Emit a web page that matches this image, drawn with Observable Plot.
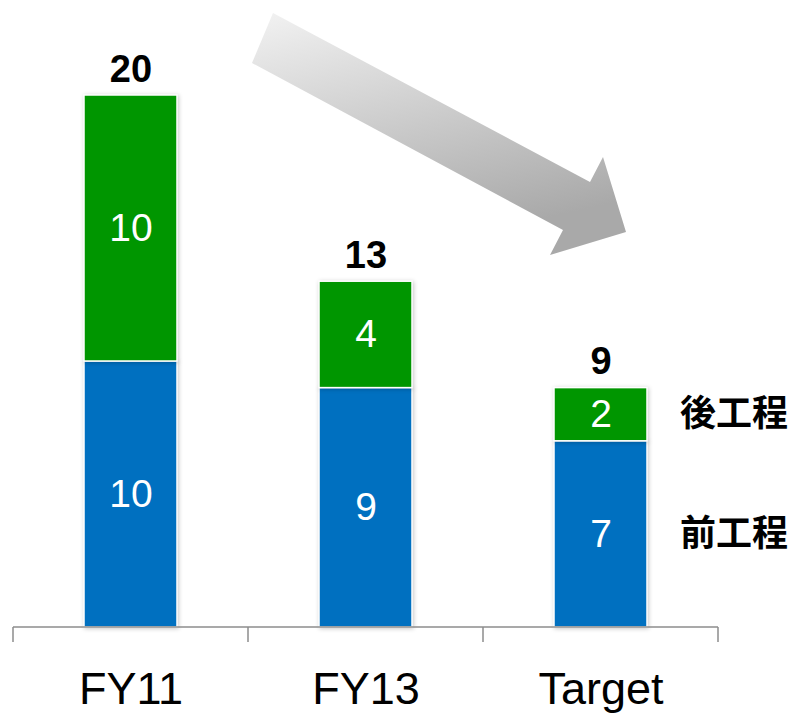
<!DOCTYPE html>
<html>
<head>
<meta charset="utf-8">
<script src="https://cdn.jsdelivr.net/npm/d3@7"></script>
<script src="https://cdn.jsdelivr.net/npm/@observablehq/plot@0.6"></script>
<style>
  html, body { margin: 0; padding: 0; background: #fff; }
  #wrap { position: relative; width: 795px; height: 716px; }
  #wrap svg.arrow { position: absolute; left: 0; top: 0; pointer-events: none; }
  g[aria-label="bar"] rect { filter: drop-shadow(1px 1px 2px rgba(0,0,0,0.22)); }
</style>
</head>
<body>
<div id="wrap"></div>
<script>
// ---- data ----
const categories = ["FY11", "FY13", "Target"];
const seriesNames = ["前工程", "後工程"];
const frontEnd = [10, 9, 7];   // 前工程 (blue, bottom)
const backEnd = [10, 4, 2];    // 後工程 (green, top)
const totals = [20, 13, 9];
const seriesColors = ["#0070C0", "#009600"];

const rows = categories.flatMap((c, i) => [
  {cat: c, series: seriesNames[0], value: frontEnd[i]},
  {cat: c, series: seriesNames[1], value: backEnd[i]}
]);
const totalRows = categories.map((c, i) => ({cat: c, total: totals[i]}));
const lastCat = categories[categories.length - 1];

const latin = "'Liberation Sans', Arial, sans-serif";
const cjk = "'Noto Sans CJK JP', 'Noto Sans CJK SC', sans-serif";

function baseAxis(index, scales, values, dims) {
  const x = scales.x, y = scales.y;
  const bw = x.bandwidth ? x.bandwidth() : 0;
  const step = x.step ? x.step() : (dims.width - dims.marginLeft - dims.marginRight) / categories.length;
  const y0 = y(0);
  const g = d3.create("svg:g")
    .attr("stroke", "#8c8c8c").attr("stroke-width", 1.5).attr("fill", "none");
  const bounds = categories.map(c => x(c) + bw / 2 - step / 2);
  bounds.push(x(lastCat) + bw / 2 + step / 2);
  g.append("path").attr("d", `M${bounds[0]},${y0}H${bounds[bounds.length - 1]}`);
  for (const b of bounds) g.append("path").attr("d", `M${b},${y0}V${y0 + 15}`);
  return g.node();
}

const chart = Plot.plot({
  width: 795,
  height: 716,
  marginLeft: 12,
  marginRight: 77,
  marginTop: 95,
  marginBottom: 89,
  style: {fontFamily: latin, fontSize: "45px", color: "#000", background: "#fff"},
  x: {domain: categories, paddingInner: 0.605, paddingOuter: 0.3025, label: null},
  y: {domain: [0, 20], axis: null},
  color: {domain: seriesNames, range: seriesColors},
  marks: [
    Plot.barY(rows, {x: "cat", y: "value", fill: "series", stroke: "white", strokeWidth: 1.5}),
    Plot.text(rows, Plot.stackY({
      x: "cat", y: "value", z: "series", text: d => String(d.value),
      fill: "white", fontSize: 39, fontFamily: latin
    })),
    Plot.text(totalRows, {
      x: "cat", y: "total", text: d => String(d.total), dy: -26,
      fontSize: 38, fontWeight: "bold", fill: "#000", fontFamily: latin
    }),
    Plot.text(rows.filter(d => d.cat === lastCat), Plot.stackY({
      x: "cat", y: "value", z: "series", text: "series",
      dx: 79, textAnchor: "start", fontSize: 36, fontWeight: "bold",
      fill: "#000", fontFamily: cjk
    })),
    Plot.axisX({tickSize: 0, tickPadding: 45, fontSize: 45, label: null, fontFamily: latin}),
    baseAxis
  ]
});
document.getElementById("wrap").appendChild(chart);

// decorative trend arrow (annotation, not data)
const arrow = d3.create("svg").attr("class", "arrow").attr("width", 795).attr("height", 716);
const grad = arrow.append("defs").append("linearGradient")
  .attr("id", "arrowGrad").attr("x1", 0).attr("y1", 0).attr("x2", 0.35).attr("y2", 1);
grad.append("stop").attr("offset", "0%").attr("stop-color", "#f2f2f2");
grad.append("stop").attr("offset", "100%").attr("stop-color", "#a9a9a9");
arrow.append("polygon")
  .attr("points", "273,13 590,182 603,157 626,232 550,255 563,230 252,63")
  .attr("fill", "url(#arrowGrad)");
document.getElementById("wrap").appendChild(arrow.node());
</script>
</body>
</html>
